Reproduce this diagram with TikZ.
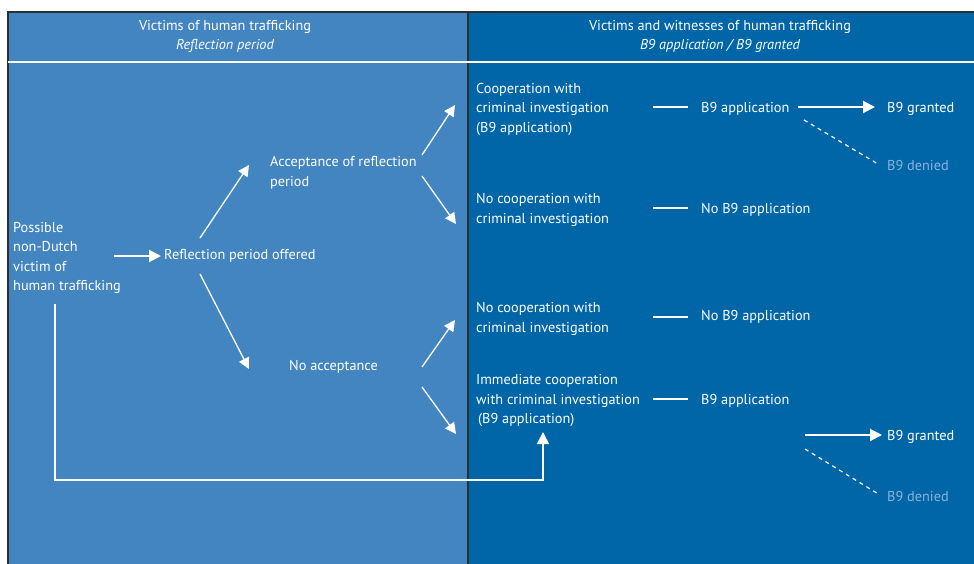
\documentclass[tikz,border=0pt]{standalone}
\usepackage{fontspec}
\setmainfont{PT Sans}
\usetikzlibrary{arrows.meta}
\definecolor{lpanel}{HTML}{4285C0}
\definecolor{rpanel}{HTML}{0066A8}
\definecolor{denied}{HTML}{8AB1DA}
\definecolor{frame}{HTML}{2B2F33}
\newcommand{\dfont}{\fontsize{14.3}{19.5}\selectfont}
\begin{document}
\begin{tikzpicture}[x=1pt,y=-1pt,
  txt/.style={text=white, align=left, anchor=west, inner sep=0pt, font=\dfont, yshift=-2pt},
  head/.style={text=white, align=center, inner sep=0pt, font=\dfont, yshift=-2.5pt},
  arr/.style={draw=white, line width=1.3pt, -{Triangle[length=11pt,width=11pt]}},
  harr/.style={draw=white, line width=2pt, -{Triangle[length=12pt,width=12pt]}},
  link/.style={draw=white, line width=2pt},
  dashline/.style={draw=white, line width=1.2pt, dash pattern=on 4pt off 4pt}
]
\useasboundingbox (0,0) rectangle (974,564);
% panels
\fill[lpanel] (8,12) rectangle (468,564);
\fill[rpanel] (468,12) rectangle (974,564);
\draw[frame, line width=1.5pt] (8,564) -- (8,12) -- (974,12);
\draw[frame, line width=1.5pt] (468,12) -- (468,564);
\draw[white, line width=2pt] (8,62) -- (974,62);
% headers
\node[head] (h1) at (225,34) {Victims of human trafficking\\\itshape Reflection period};
\node[head] (h2) at (720,34) {Victims and witnesses of human trafficking\\\itshape B9 application / B9 granted};
% left column
\node[txt] (poss) at (13,256) {Possible\\non-Dutch\\victim of\\human trafficking};
\node[txt] (offer) at (164,254) {Reflection period offered};
\node[txt] (acc) at (270,171) {Acceptance of reflection\\period};
\node[txt] (noacc) at (289,365) {No acceptance};
% right column
\node[txt] (coop) at (476,107) {Cooperation with\\criminal investigation\\(B9 application)};
\node[txt] (nocoop1) at (476,208) {No cooperation with\\criminal investigation};
\node[txt] (nocoop2) at (476,317) {No cooperation with\\criminal investigation};
\node[txt] (imm) at (476,399) {Immediate cooperation\\with criminal investigation\\\hspace*{2pt}(B9 application)};
\node[txt] (app1) at (701,107) {B9 application};
\node[txt] (noapp1) at (701,208) {No B9 application};
\node[txt] (noapp2) at (701,315) {No B9 application};
\node[txt] (app2) at (701,399) {B9 application};
\node[txt] (gr1) at (887,107) {B9 granted};
\node[txt, text=denied] (den1) at (887,163) {B9 denied};
\node[txt] (gr2) at (887,435) {B9 granted};
\node[txt, text=denied] (den2) at (887,494) {B9 denied};
% connector end points
\coordinate (p1) at (114,256); \coordinate (p2) at (161,256);
\coordinate (o1) at (200,238); \coordinate (o2) at (249,165);
\coordinate (o3) at (200,274); \coordinate (o4) at (249,369);
\coordinate (a1) at (422,155); \coordinate (a2) at (455,105);
\coordinate (a3) at (422,176); \coordinate (a4) at (456,224);
\coordinate (n1) at (422,367); \coordinate (n2) at (455,320);
\coordinate (n3) at (422,387); \coordinate (n4) at (456,434);
\coordinate (c1) at (653,107); \coordinate (c2) at (688,107);
\coordinate (d1) at (653,208); \coordinate (d2) at (688,208);
\coordinate (e1) at (653,317); \coordinate (e2) at (688,317);
\coordinate (f1) at (653,399); \coordinate (f2) at (688,399);
\coordinate (g1) at (798,107); \coordinate (g2) at (875,107);
\coordinate (g3) at (804,120); \coordinate (g4) at (878,164);
\coordinate (k1) at (805,435); \coordinate (k2) at (882,435);
\coordinate (k3) at (805,449); \coordinate (k4) at (880,495);
\coordinate (v1) at (55,304); \coordinate (v2) at (543,480); \coordinate (v3) at (543,432);
% connectors
\draw[harr] (p1) -- (p2);
\draw[arr] (o1) -- (o2);
\draw[arr] (o3) -- (o4);
\draw[arr] (a1) -- (a2);
\draw[arr] (a3) -- (a4);
\draw[arr] (n1) -- (n2);
\draw[arr] (n3) -- (n4);
\draw[link] (c1) -- (c2);
\draw[link] (d1) -- (d2);
\draw[link] (e1) -- (e2);
\draw[link] (f1) -- (f2);
\draw[harr] (g1) -- (g2);
\draw[dashline] (g3) -- (g4);
\draw[harr] (k1) -- (k2);
\draw[dashline] (k3) -- (k4);
\draw[white, line width=1.5pt, -{Triangle[length=12pt,width=12pt]}] (v1) |- (v2) -- (v3);
\end{tikzpicture}
\end{document}
